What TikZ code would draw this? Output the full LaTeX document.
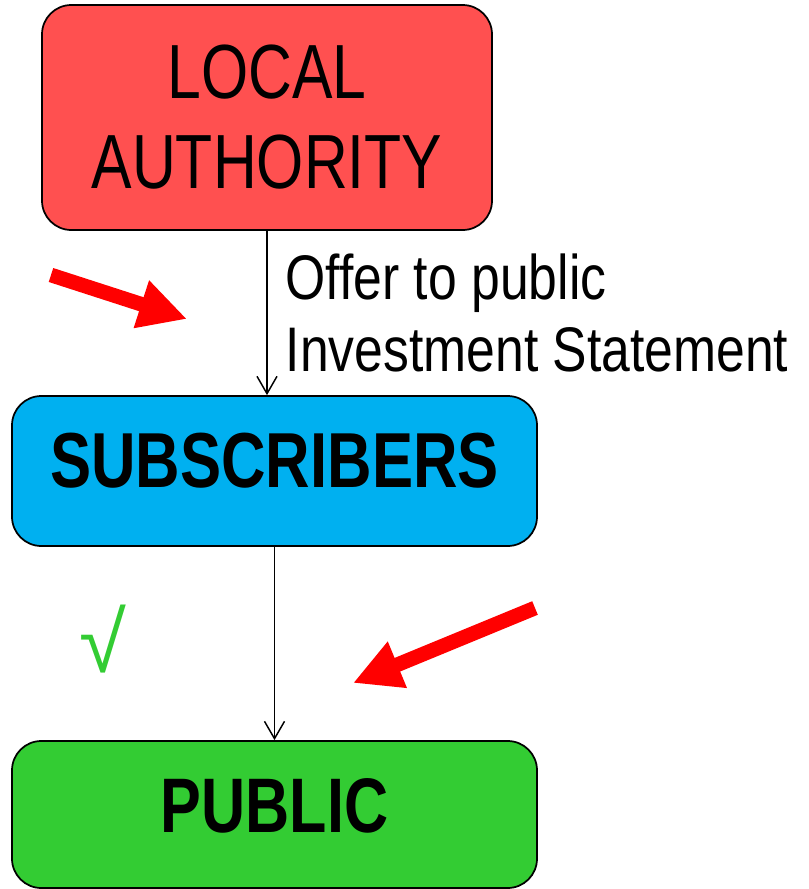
\documentclass[tikz,border=0pt]{standalone}
\usepackage{fontspec}
\setmainfont{Liberation Sans}
\newfontfamily\narrowfont[FakeStretch=0.79]{Liberation Sans}
\newfontfamily\labelfont[FakeStretch=0.82]{Liberation Sans}
\usetikzlibrary{arrows.meta,positioning}

\definecolor{authred}{HTML}{FF5050}
\definecolor{subblue}{HTML}{00B0F0}
\definecolor{pubgreen}{HTML}{33CC33}

\tikzset{
  stagebox/.style={draw=black, line width=1.3pt, rounded corners=22pt, inner sep=0pt, align=center},
  flow/.style={line width=1.1pt, -{Straight Barb[length=13pt,width=15pt]}},
  pointer/.style={red, line width=11pt, -{Triangle[length=36pt,width=35pt]}}
}

\begin{document}
\begin{tikzpicture}[x=0.75pt,y=-0.75pt]
  \useasboundingbox (0,0) rectangle (809,889);

  % the three parties
  \node[stagebox, fill=authred, minimum width=337.5pt, minimum height=168.75pt,
        font=\narrowfont\fontsize{57.6pt}{67.5pt}\selectfont] (authority) at (267,117.5) {LOCAL\\AUTHORITY};
  \node[stagebox, fill=subblue, minimum width=393.75pt, minimum height=112.5pt,
        text height=68.25pt, text depth=44.25pt,
        font=\narrowfont\bfseries\fontsize{58.5pt}{66pt}\selectfont] (subscribers) at (274.5,471) {SUBSCRIBERS};
  \node[stagebox, fill=pubgreen, minimum width=393.75pt, minimum height=110.25pt,
        text height=68.25pt, text depth=42pt,
        font=\narrowfont\bfseries\fontsize{58pt}{66pt}\selectfont] (public) at (274.5,814.5) {PUBLIC};

  % connectors
  \draw[flow] (authority.south) -- (authority.south |- subscribers.north)
    node[midway, right=13.5pt, inner sep=0pt, align=left,
         font=\labelfont\fontsize{47.25pt}{54pt}\selectfont] (offer) {Offer to public\\Investment Statement};
  \draw[flow] (subscribers.south) -- (subscribers.south |- public.north);

  \node[pubgreen, font=\fontsize{64pt}{66pt}\selectfont] (tick) at (103,639) {√};

  % red pointers
  \coordinate (pointA from) at (51,275);
  \coordinate (pointA to) at (187,319);
  \coordinate (pointB from) at (535,608);
  \coordinate (pointB to) at (353,683);
  \draw[pointer] (pointA from) -- (pointA to);
  \draw[pointer] (pointB from) -- (pointB to);

\end{tikzpicture}
\end{document}
